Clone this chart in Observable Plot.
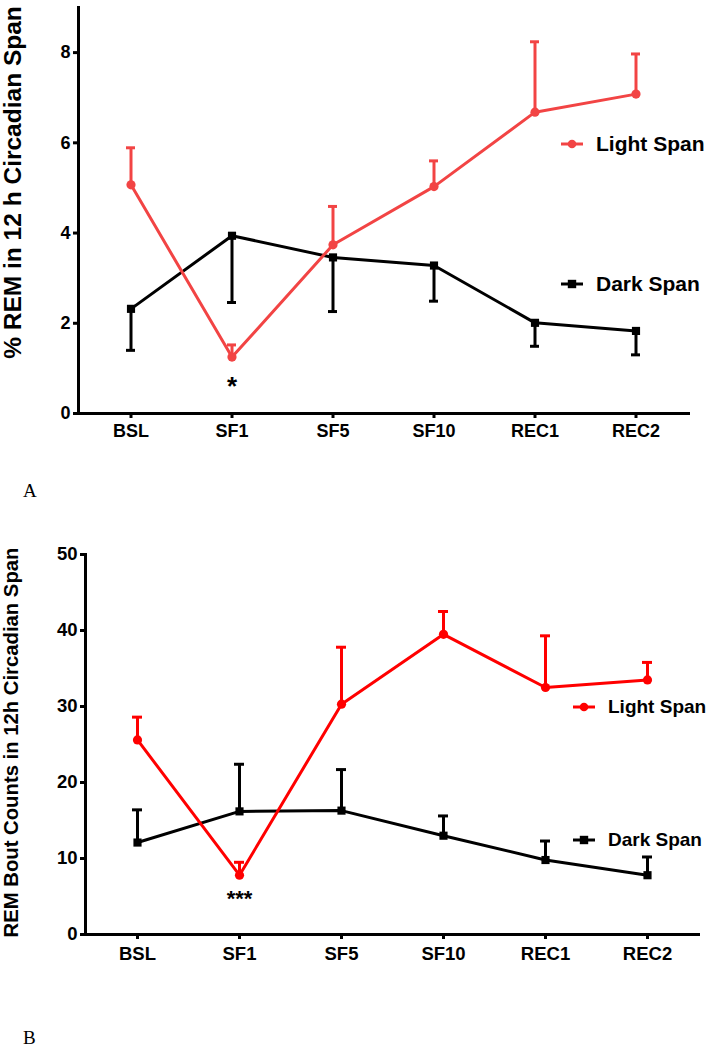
<!DOCTYPE html>
<html><head><meta charset="utf-8">
<script src="https://cdn.jsdelivr.net/npm/d3@7"></script>
<script src="https://cdn.jsdelivr.net/npm/@observablehq/plot@0.6"></script>
<style>
body{margin:0;background:#fff;font-family:Arial,"Liberation Sans",sans-serif;}
#wrap{position:relative;width:708px;height:1050px;overflow:hidden;background:#fff;}
.panel{position:absolute;left:0;}
.lbl{position:absolute;font-family:"Times New Roman","Liberation Serif",serif;font-size:19px;line-height:19px;}
.leg{position:absolute;display:flex;align-items:center;font-weight:bold;line-height:24px;height:24px;white-space:nowrap;color:#000;}
.leg svg{margin-right:13px;display:block;}
</style>
</head><body><div id="wrap"></div>
<script>
// ---- data ----
const categories = ["BSL", "SF1", "SF5", "SF10", "REC1", "REC2"];

// Panel A: % REM in 12 h circadian span
const lightA = [5.07, 1.25, 3.74, 5.03, 6.68, 7.08];
const lightAErrEnd = [5.89, 1.52, 4.59, 5.60, 8.24, 7.97];
const darkA = [2.32, 3.94, 3.46, 3.28, 2.01, 1.83];
const darkAErrEnd = [1.40, 2.46, 2.26, 2.49, 1.49, 1.30];
const yTicksA = [0, 2, 4, 6, 8];
const sigA = [{cat: "SF1", label: "*"}];

// Panel B: REM bout counts in 12h circadian span
const lightB = [25.6, 7.8, 30.3, 39.5, 32.5, 33.5];
const lightBErrEnd = [28.6, 9.5, 37.8, 42.5, 39.3, 35.8];
const darkB = [12.1, 16.2, 16.3, 13.0, 9.8, 7.8];
const darkBErrEnd = [16.4, 22.4, 21.7, 15.6, 12.3, 10.2];
const yTicksB = [0, 10, 20, 30, 40, 50];
const sigB = [{cat: "SF1", label: "***"}];

const seriesNames = ["Light Span", "Dark Span"];

// ---- helpers ----
const FONT = 'Arial, "Liberation Sans", sans-serif';
const rows = (means, ends) => categories.map((c, i) => ({cat: c, mean: means[i], end: ends[i]}));

function makePanel(o) {
  const L = rows(o.light, o.lightEnd), D = rows(o.dark, o.darkEnd);
  const sig = o.sig.map(s => ({...s, mean: L.find(r => r.cat === s.cat).mean}));
  const ins = o.capInset;
  return Plot.plot({
    width: 708, height: o.height,
    marginTop: o.mt, marginBottom: o.mb, marginLeft: o.ml, marginRight: o.mr,
    style: {fontFamily: FONT, fontWeight: "bold", fontSize: "16px", color: "#000", background: "transparent"},
    x: {type: "band", domain: categories, padding: 0},
    y: {domain: o.yDomain},
    marks: [
      Plot.axisX({tickSize: 5, tickPadding: o.xPad, strokeWidth: 3, label: null, fontSize: o.tickFont, fontWeight: "bold"}),
      Plot.axisY({ticks: o.yTicks, tickSize: 5, tickPadding: 3, strokeWidth: 3, label: null, fontSize: o.tickFont, fontWeight: "bold"}),
      Plot.frame({anchor: "left", strokeWidth: 3}),
      Plot.frame({anchor: "bottom", strokeWidth: 3}),
      // dark series
      Plot.ruleX(D, {x: "cat", y1: "mean", y2: "end", stroke: "#000", strokeWidth: 3}),
      Plot.tickY(D, {x: "cat", y: "end", stroke: "#000", strokeWidth: 3, insetLeft: ins, insetRight: ins}),
      Plot.line(D, {x: "cat", y: "mean", stroke: "#000", strokeWidth: 3}),
      Plot.dot(D, {x: "cat", y: "mean", symbol: "square", r: 4.6, fill: "#000", stroke: null}),
      // light series
      Plot.ruleX(L, {x: "cat", y1: "mean", y2: "end", stroke: o.red, strokeWidth: 3}),
      Plot.tickY(L, {x: "cat", y: "end", stroke: o.red, strokeWidth: 3, insetLeft: ins, insetRight: ins}),
      Plot.line(L, {x: "cat", y: "mean", stroke: o.red, strokeWidth: 3}),
      Plot.dot(L, {x: "cat", y: "mean", symbol: "circle", r: 4.6, fill: o.red, stroke: null}),
      // significance
      Plot.text(sig, {x: "cat", y: "mean", text: "label", dy: o.starDy, fontSize: o.starSize, fontWeight: "bold", fill: "#000"}),
      // y title
      Plot.text([o.title], {text: d => d, frameAnchor: "left", rotate: -90, dx: o.titleDx, dy: o.titleDy,
        fontSize: o.titleSize, fontWeight: "bold", textAnchor: "middle", lineAnchor: "middle", fill: "#000"})
    ]
  });
}

function legend(wrap, name, color, symbol, left, cy, size) {
  const d = document.createElement("div");
  d.className = "leg";
  d.style.left = left + "px";
  d.style.top = (cy - 12) + "px";
  d.style.fontSize = size + "px";
  const mk = symbol === "circle"
    ? `<circle cx="11" cy="6" r="4.3" fill="${color}"/>`
    : `<rect x="6.8" y="1.8" width="8.4" height="8.4" fill="${color}"/>`;
  d.innerHTML = `<svg width="22" height="12"><line x1="0" x2="22" y1="6" y2="6" stroke="${color}" stroke-width="3"/>${mk}</svg><span>${name}</span>`;
  wrap.appendChild(d);
}

const wrap = document.getElementById("wrap");
const redA = "#f24444", redB = "#ff0000";

const pA = makePanel({
  light: lightA, lightEnd: lightAErrEnd, dark: darkA, darkEnd: darkAErrEnd,
  yDomain: [0, 9], yTicks: yTicksA, height: 460, mt: 7, mb: 47, ml: 78, mr: 20, xPad: 6, tickFont: 18,
  red: redA, sig: sigA, starDy: 30, starSize: 26, capInset: 46,
  title: "% REM in 12 h Circadian Span", titleSize: 24.5, titleDx: -65, titleDy: -28
});
pA.classList.add("panel"); pA.style.top = "0px";
wrap.appendChild(pA);

const pB = makePanel({
  light: lightB, lightEnd: lightBErrEnd, dark: darkB, darkEnd: darkBErrEnd,
  yDomain: [0, 50], yTicks: yTicksB, height: 500, mt: 54, mb: 66, ml: 85, mr: 10, xPad: 7, tickFont: 18.5,
  red: redB, sig: sigB, starDy: 24, starSize: 22, capInset: 46,
  title: "REM Bout Counts in 12h Circadian Span", titleSize: 20.3, titleDx: -74, titleDy: -2
});
pB.classList.add("panel"); pB.style.top = "500px";
wrap.appendChild(pB);

legend(wrap, seriesNames[0], redA, "circle", 561, 144, 21);
legend(wrap, seriesNames[1], "#000", "square", 561, 284, 21);
legend(wrap, seriesNames[0], redB, "circle", 573, 707, 19);
legend(wrap, seriesNames[1], "#000", "square", 573, 840, 19);

const a = document.createElement("div"); a.className = "lbl"; a.textContent = "A";
a.style.left = "23px"; a.style.top = "481px"; wrap.appendChild(a);
const b = document.createElement("div"); b.className = "lbl"; b.textContent = "B";
b.style.left = "23px"; b.style.top = "1028px"; wrap.appendChild(b);
</script>
</body></html>
